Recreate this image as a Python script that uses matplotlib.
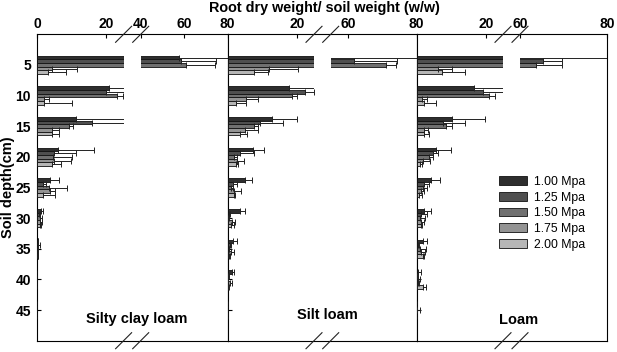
import numpy as np
import matplotlib
matplotlib.use("Agg")
import matplotlib.pyplot as plt
from matplotlib.lines import Line2D

plt.rcParams["font.family"] = ["Liberation Sans", "DejaVu Sans"]

depths = [5, 10, 15, 20, 25, 30, 35, 40, 45]
pressures = ["1.00 Mpa", "1.25 Mpa", "1.50 Mpa", "1.75 Mpa", "2.00 Mpa"]
soils = ["Silty clay loam", "Silt loam", "Loam"]
shades = ["#2e2e2e", "#4f4f4f", "#707070", "#939393", "#b6b6b6"]

# root dry weight / soil weight, one list per pressure, values by depth
scl_100 = [57.7, 20.8, 11.2, 5.9, 3.7, 1.2, 0.1, 0, 0]
scl_125 = [58.5, 19.9, 15.8, 4.8, 1.7, 0.6, 0.3, 0, 0]
scl_150 = [61.0, 23.2, 9.3, 4.6, 3.4, 0.8, 0.1, 0, 0]
scl_175 = [4.2, 2.0, 4.2, 4.7, 3.7, 0.9, 0.1, 0, 0]
scl_200 = [3.0, 1.8, 4.2, 4.2, 1.6, 0.7, 0.1, 0, 0]
scl_100_err = [30, 6.0, 15, 10.5, 2.7, 0.4, 0.1, 0, 0]
scl_125_err = [16, 5.5, 10, 6.4, 0.8, 0.3, 0.5, 0, 0]
scl_150_err = [13, 1.7, 1.0, 5.4, 5.1, 0.5, 0.1, 0, 0]
scl_175_err = [7.2, 1.5, 2.2, 5.2, 1.5, 0.6, 0.1, 0, 0]
scl_200_err = [5.2, 8.3, 2.2, 2.7, 3.4, 0.4, 0.1, 0, 0]

sil_100 = [52, 17.9, 12.9, 7.2, 4.9, 3.6, 1.6, 1.3, 0]
sil_125 = [61.7, 22.5, 9.5, 3.6, 1.4, 0.4, 0.6, 0.2, 0]
sil_150 = [71.2, 18.6, 7.6, 1.8, 0.9, 0.2, 0.3, 0.1, 0]
sil_175 = [11.9, 5.3, 5.0, 2.6, 1.8, 1.2, 0.9, 0.8, 0]
sil_200 = [7.5, 2.4, 3.6, 2.4, 1.8, 0.9, 0.3, 0.2, 0]
sil_100_err = [35, 9, 7.3, 3.4, 2.1, 1.3, 1.2, 0.6, 0]
sil_125_err = [12.5, 2.4, 6.4, 4.0, 1.4, 0.2, 0.4, 0.1, 0]
sil_150_err = [2.9, 1.6, 1.3, 0.8, 0.6, 0.1, 0.2, 0.1, 0]
sil_175_err = [8.6, 3.6, 3.7, 2.0, 2.0, 0.9, 0.9, 0.5, 0]
sil_200_err = [4.3, 2.9, 2.1, 0.7, 0.3, 0.9, 0.3, 0.1, 0]

loam_100 = [55, 16.6, 10.3, 5.6, 4.1, 2.2, 1.7, 0.3, 0]
loam_125 = [65.2, 19.3, 7.7, 4.8, 2.1, 1.2, 0.5, 0.2, 0]
loam_150 = [63.6, 20.8, 8.4, 3.7, 1.7, 1.0, 1.0, 0.3, 0.2]
loam_175 = [6.1, 1.4, 2.1, 1.7, 1.2, 1.2, 1.2, 0.4, 0]
loam_200 = [7.2, 2.1, 2.1, 1.0, 0.6, 1.2, 1.7, 1.7, 0]
loam_100_err = [30, 9, 9.5, 4.3, 2.7, 1.9, 1.4, 0.9, 0]
loam_125_err = [4.5, 6, 6.3, 1.5, 1.6, 1.9, 0.3, 0.2, 0]
loam_150_err = [6.0, 1.9, 1.9, 1.1, 1.4, 1.4, 1.7, 0.7, 0.8]
loam_175_err = [4.0, 1.7, 1.3, 2.2, 0.9, 0.9, 1.2, 0.3, 0]
loam_200_err = [6.8, 3.5, 1.6, 0.4, 0.8, 0.3, 0.4, 1.0, 0]

means = [[scl_100, scl_125, scl_150, scl_175, scl_200],
         [sil_100, sil_125, sil_150, sil_175, sil_200],
         [loam_100, loam_125, loam_150, loam_175, loam_200]]
errs = [[scl_100_err, scl_125_err, scl_150_err, scl_175_err, scl_200_err],
        [sil_100_err, sil_125_err, sil_150_err, sil_175_err, sil_200_err],
        [loam_100_err, loam_125_err, loam_150_err, loam_175_err, loam_200_err]]

# broken x axis per panel: 0-25 and (hi_min)-80
hi_min = [40, 55, 60]
lo_ticks = [[0, 20], [20], [20]]
hi_ticks = [[40, 60, 80], [60, 80], [60, 80]]

# layout in pixels
W, H = 617, 352
TOP, BOT = 34.3, 340.7
edges = [37.3, 227.7, 416.7, 607.0]
LO_W = 86.3
hi_start = [140.7, 330.7, 520.0]
label_pos = [(136.6, 318.5), (327.7, 315.1), (518.8, 320.2)]

fig = plt.figure(figsize=(W / 100, H / 100), dpi=100)
fig.patch.set_facecolor("white")

def fx(px):
    return px / W

def fy(py):
    return 1 - py / H

hgt = (BOT - TOP) / H
legend_handles = None
for p in range(3):
    frame = fig.add_axes([fx(edges[p]), fy(BOT), fx(edges[p + 1] - edges[p]), hgt])
    frame.set_xlim(0, 1)
    frame.set_xticks([])
    frame.set_ylim(50, 0)
    frame.set_yticks(depths)
    frame.tick_params(axis="y", direction="in", length=3, width=0.8, pad=4.5,
                      labelsize=10, labelleft=(p == 0))
    for lab in frame.get_yticklabels():
        lab.set_fontweight("bold")
    for s in frame.spines.values():
        s.set_linewidth(0.8)

    lo = fig.add_axes([fx(edges[p]), fy(BOT), LO_W / W, hgt])
    hi = fig.add_axes([fx(hi_start[p]), fy(BOT), fx(edges[p + 1] - hi_start[p]), hgt])
    lo.set_xlim(0, 25)
    hi.set_xlim(hi_min[p], 80)
    lo.set_xticks(lo_ticks[p])
    hi.set_xticks(hi_ticks[p])
    for ax in (lo, hi):
        ax.set_ylim(50, 0)
        ax.set_yticks([])
        ax.patch.set_visible(False)
        for s in ax.spines.values():
            s.set_visible(False)
        ax.xaxis.tick_top()
        ax.tick_params(axis="x", direction="in", length=3, width=0.8, pad=2.5,
                       labelsize=10)
        for lab in ax.get_xticklabels():
            lab.set_fontweight("bold")

    handles = []
    for i in range(5):
        m = np.array(means[p][i], dtype=float)
        e = np.array(errs[p][i], dtype=float)
        y = np.array(depths, dtype=float) + (i - 2) * 0.6
        mask = e > 0
        for ax in (lo, hi):
            b = ax.barh(y, m, height=0.6, color=shades[i], edgecolor="#111111",
                        linewidth=0.6, label=pressures[i], zorder=2)
            ax.errorbar(m[mask], y[mask], xerr=[np.zeros(mask.sum()), e[mask]],
                        fmt="none", ecolor="#222222", elinewidth=0.7, capsize=2,
                        capthick=0.7, zorder=3)
            if ax is lo:
                handles.append(b)
    legend_handles = handles

    # break marks on top and bottom spines
    for bx in (edges[p] + LO_W, hi_start[p]):
        for by in (TOP, BOT):
            fig.add_artist(Line2D([fx(bx - 8), fx(bx + 8)], [fy(by + 8), fy(by - 8)],
                                  transform=fig.transFigure, color="#222222", lw=0.8))

    fig.text(fx(label_pos[p][0]), fy(label_pos[p][1]), soils[p], ha="center",
             va="center", fontsize=10.5, fontweight="bold")

fig.legend(legend_handles, pressures, loc="upper left",
           bbox_to_anchor=(fx(499), fy(176)), frameon=False, fontsize=8.8,
           handlelength=2.3, handleheight=0.7, labelspacing=0.3,
           handletextpad=0.6, borderpad=0, borderaxespad=0)

fig.text(fx(324.5), fy(8), "Root dry weight/ soil weight (w/w)", ha="center",
         va="center", fontsize=10.4, fontweight="bold")
fig.text(fx(8), fy(187.5), "Soil depth(cm)", rotation=90, ha="center",
         va="center", fontsize=10.5, fontweight="bold")

fig.savefig("out.png", dpi=100, facecolor="white")
